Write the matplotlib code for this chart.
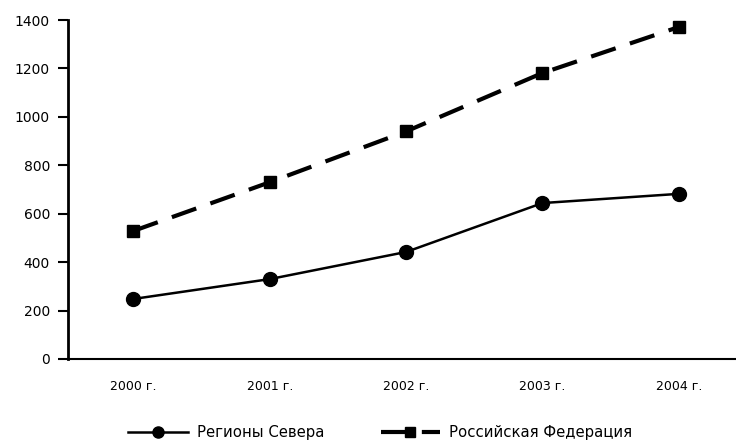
import matplotlib
matplotlib.use("Agg")
import matplotlib.pyplot as plt

plt.rcParams["font.family"] = ["DejaVu Sans"]

years = ["2000 г.", "2001 г.", "2002 г.", "2003 г.", "2004 г."]
north = [248, 330, 442, 644, 682]
russia = [529, 730, 940, 1181, 1371]
yticks = [0, 200, 400, 600, 800, 1000, 1200, 1400]

fig = plt.figure(figsize=(7.36, 4.43), dpi=100)
ax = fig.add_axes([68 / 736, 1 - 359 / 443, 1 - 68 / 736, 339 / 443])

x = range(len(years))
ax.plot(x, north, color="black", lw=1.8, marker="o", ms=10,
        label="Регионы Севера")
ax.plot(x, russia, color="black", lw=3.0, marker="s", ms=9,
        dashes=(6.2, 3.6), label="Российская Федерация")

ax.set_xlim(-0.48, 4.42)
ax.set_ylim(0, 1400)
ax.set_yticks(yticks)
ax.set_xticks(list(x))
ax.set_xticklabels(years)
ax.tick_params(axis="x", length=0, pad=15, labelsize=9)
ax.tick_params(axis="y", length=7, width=1.5, direction="out", pad=6,
               labelsize=10)
ax.spines["top"].set_visible(False)
ax.spines["right"].set_visible(False)
ax.spines["left"].set_linewidth(2)
ax.spines["bottom"].set_linewidth(1.5)

fig.legend(loc="lower left", bbox_to_anchor=(115 / 736, -0.024), ncol=2,
           frameon=False, fontsize=10.7, handlelength=4.0, columnspacing=3.8,
           handletextpad=0.6, markerscale=0.8)

fig.savefig("out.png", dpi=100, facecolor="white")
